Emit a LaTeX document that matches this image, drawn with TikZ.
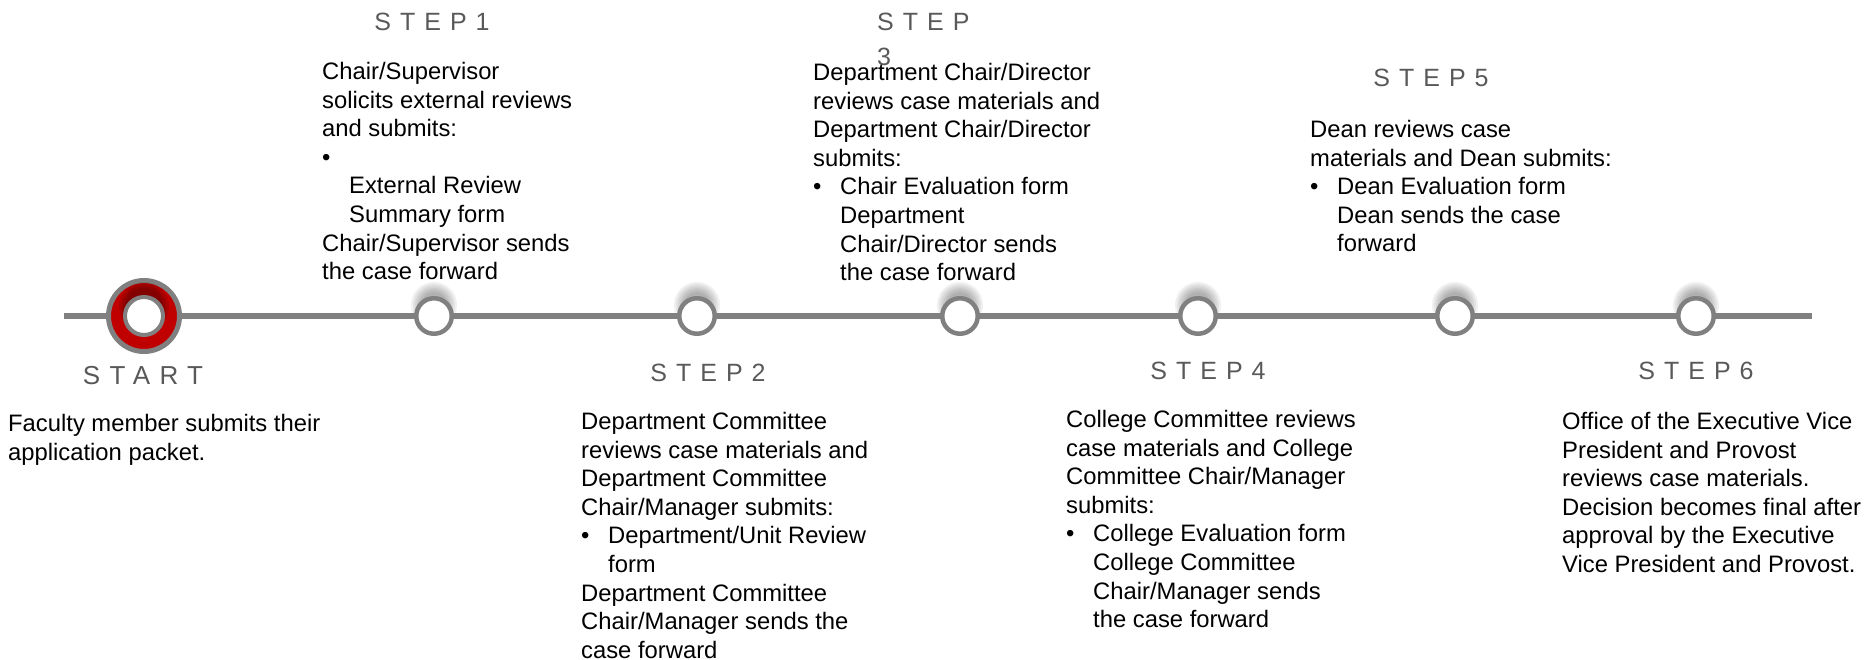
\documentclass[tikz,border=0pt]{standalone}
\usepackage{fontspec}
\setmainfont{Liberation Sans}
\newfontfamily\stepfont[LetterSpace=36]{Liberation Sans}
\usepackage{tikz}

\definecolor{lineGray}{RGB}{128,128,128}
\definecolor{labelGray}{RGB}{89,89,89}
\definecolor{startRed}{RGB}{192,0,0}

\tikzset{
  steplabel/.style={text=labelGray, inner sep=0pt, font=\stepfont\fontsize{25}{35}\selectfont},
  stepnote/.style={anchor=north west, align=left, inner sep=0pt, font=\fontsize{23.8}{28.6}\selectfont},
  milestone/.style={circle, draw=lineGray, line width=4.5pt, fill=white, minimum size=35.5pt, inner sep=0pt},
  startring/.style={circle, draw=lineGray, line width=5pt, fill=startRed, minimum size=71pt, inner sep=0pt},
  glow/.style={black, opacity=0.06}
}
\newcommand{\bulletitem}{\makebox[27pt][l]{\textbullet}}
\newcommand{\indentitem}{\hspace*{27pt}}

\begin{document}
\begin{tikzpicture}[x=1pt, y=-1pt, line cap=butt]

  \useasboundingbox (0,0) rectangle (1875,659);

  % soft shadow above every marker
  \foreach \x in {144,434,697,960,1198,1455,1696}
    \foreach \r in {13,15,...,23}
      \fill[glow] (\x,305) circle (\r pt);

  % timeline
  \coordinate (tl-start) at (64,316);
  \coordinate (tl-end) at (1812,316);
  \draw[lineGray, line width=5.5pt] (tl-start) -- (tl-end);

  % start marker
  \node[startring] (start) at (144,316) {};
  \foreach \r in {19,21,23,25}
    \fill[glow, opacity=0.09] (144,307) circle (\r pt);
  \node[milestone, minimum size=38pt, line width=4pt] (start-in) at (144,316) {};

  % step markers
  \foreach \x [count=\i] in {434,697,960,1198,1455,1696}
    \node[milestone] (m\i) at (\x,316) {};

  % labels
  \node[steplabel, font=\stepfont\fontsize{26}{35}\selectfont] (label0) at (143,376) {START};
  \node[steplabel] (label1) at (432,22) {STEP1};
  \node[steplabel] (label2) at (708,373) {STEP2};
  \node[steplabel, anchor=north west, align=left] (label3) at (877,13) {STEP\\3};
  \node[steplabel] (label4) at (1208,371) {STEP4};
  \node[steplabel] (label5) at (1431,78) {STEP5};
  \node[steplabel] (label6) at (1696,371) {STEP6};

  % notes
  \node[stepnote] (note0) at (8,414) {Faculty member submits their\\application packet.};
  \node[stepnote] (note1) at (322,62) {Chair/Supervisor\\solicits external reviews\\and submits:\\\textbullet\\\indentitem External Review\\\indentitem Summary form\\Chair/Supervisor sends\\the case forward};
  \node[stepnote] (note2) at (581,412) {Department Committee\\reviews case materials and\\Department Committee\\Chair/Manager submits:\\\bulletitem Department/Unit Review\\\indentitem form\\Department Committee\\Chair/Manager sends the\\case forward};
  \node[stepnote] (note3) at (813,63) {Department Chair/Director\\reviews case materials and\\Department Chair/Director\\submits:\\\bulletitem Chair Evaluation form\\\indentitem Department\\\indentitem Chair/Director sends\\\indentitem the case forward};
  \node[stepnote] (note4) at (1066,410) {College Committee reviews\\case materials and College\\Committee Chair/Manager\\submits:\\\bulletitem College Evaluation form\\\indentitem College Committee\\\indentitem Chair/Manager sends\\\indentitem the case forward};
  \node[stepnote] (note5) at (1310,120) {Dean reviews case\\materials and Dean submits:\\\bulletitem Dean Evaluation form\\\indentitem Dean sends the case\\\indentitem forward};
  \node[stepnote] (note6) at (1562,412) {Office of the Executive Vice\\President and Provost\\reviews case materials.\\Decision becomes final after\\approval by the Executive\\Vice President and Provost.};

\end{tikzpicture}
\end{document}
